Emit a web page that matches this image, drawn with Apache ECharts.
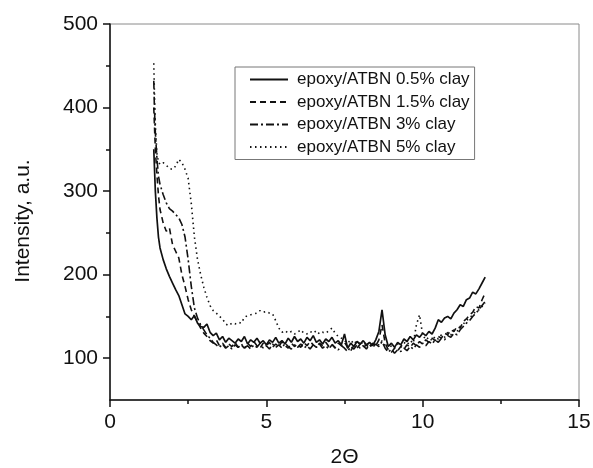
<!DOCTYPE html>
<html><head><meta charset="utf-8">
<script src="https://cdn.jsdelivr.net/npm/echarts@6/dist/echarts.min.js"></script>
<style>html,body{margin:0;padding:0;background:#fff}#c{width:593px;height:468px}</style>
</head><body><div id="c"></div>
<script>
const seriesNames = ['epoxy/ATBN 0.5% clay','epoxy/ATBN 1.5% clay','epoxy/ATBN 3% clay','epoxy/ATBN 5% clay'];
const twoTheta = [1.40,1.42,1.45,1.50,1.55,
1.6,1.7,1.8,1.9,2.0,2.1,2.2,2.3,2.4,2.5,
2.6,2.7,2.8,2.9,3.0,3.1,3.2,3.3,3.4,3.5,
3.6,3.7,3.8,3.9,4.0,4.1,4.2,4.3,4.4,4.5,
4.6,4.7,4.8,4.9,5.0,5.1,5.2,5.3,5.4,5.5,
5.6,5.7,5.8,5.9,6.0,6.1,6.2,6.3,6.4,6.5,
6.6,6.7,6.8,6.9,7.0,7.1,7.2,7.3,7.4,7.5,
7.6,7.7,7.8,7.9,8.0,8.1,8.2,8.3,8.4,8.5,
8.6,8.7,8.8,8.9,9.0,9.1,9.2,9.3,9.4,9.5,
9.6,9.7,9.8,9.9,10.0,10.1,10.2,10.3,10.4,10.5,
10.6,10.7,10.8,10.9,11.0,11.1,11.2,11.3,11.4,11.5,
11.6,11.7,11.8,11.9,12.0];
const clay05 = [350,330,300,268,245,
232,218,207,198,190,182,175,164,153,150,
146,151,142,138,137,141,131,127,130,122,
126,119,124,121,118,123,120,126,117,122,
119,124,118,121,116,122,119,125,118,121,
117,124,119,126,120,123,118,125,121,127,
119,122,117,123,120,125,118,121,116,129,
112,118,114,120,117,121,116,119,115,122,
132,158,128,114,118,113,119,116,123,120,
126,122,128,125,130,127,132,129,136,146,
143,148,150,147,154,158,164,162,170,172,
179,177,183,190,197];
const clay15 = [400,380,350,320,295,
278,262,252,256,236,228,220,200,186,170,
158,150,143,136,130,126,121,118,122,115,
118,113,117,114,119,113,116,112,118,114,
120,115,112,118,115,119,113,117,114,120,
115,112,118,114,117,113,119,115,120,116,
113,118,115,119,114,117,112,118,115,119,
113,109,115,112,117,113,116,112,118,115,
122,140,118,110,107,112,109,114,111,116,
113,118,115,120,117,122,119,124,121,126,
124,130,128,134,132,138,136,144,147,152,
155,162,160,170,178];
const clay3 = [432,400,370,340,318,
308,296,286,279,276,272,268,260,245,218,
186,160,148,140,134,128,124,119,116,113,
117,112,115,111,116,113,117,112,115,111,
116,113,118,112,115,111,117,113,116,112,
118,114,111,116,113,117,112,115,111,116,
113,117,112,115,111,116,113,110,115,112,
108,114,111,116,112,115,111,116,113,117,
114,120,112,107,111,106,110,108,112,109,
114,111,116,113,118,115,120,117,122,119,
124,122,127,125,130,128,134,138,142,145,
150,154,158,163,168];
const clay5 = [453,420,380,345,335,
332,334,331,327,326,330,338,334,326,315,
285,245,218,200,185,173,163,157,154,150,
147,141,139,142,141,143,142,149,151,152,
153,154,157,155,156,154,153,145,136,131,
133,130,132,129,131,134,130,129,132,130,
133,129,131,130,133,136,130,126,124,121,
118,122,117,121,116,120,115,119,114,118,
116,121,114,111,115,112,117,114,119,116,
121,118,140,152,128,122,125,121,126,123,
128,125,131,128,134,132,138,141,145,148,
152,156,158,162,166];
const xTicks = [0,5,10,15];
const xMinorTicks = [2.5,7.5,12.5];
const yTicks = [100,200,300,400,500];
const yMinorTicks = [150,250,350,450];

const values = [clay05, clay15, clay3, clay5];
const dashTypes = ['solid', [6,4], [8,3,2,3], [1.5,3.5]];
const FONT = 'Liberation Sans, Arial, sans-serif';
const ink = '#111';

const chart = echarts.init(document.getElementById('c'), null, {renderer:'canvas'});
const grid = {left:110, right:14, top:24, bottom:68, containLabel:false, outerBoundsMode:'none',
  show:true, borderColor:'#8a8a8a', borderWidth:1, backgroundColor:'transparent'};
const baseX = {type:'value', min:0, max:15, gridIndex:0, splitLine:{show:false}};
const baseY = {type:'value', min:50, max:500, gridIndex:0, splitLine:{show:false}};
const option = {
  animation:false,
  backgroundColor:'#fff',
  grid: grid,
  legend: {
    orient:'vertical', left:235, top:67, data:seriesNames,
    itemWidth:38, itemHeight:14, itemGap:5.5,
    padding:[4,5,4,14],
    borderColor:'#777', borderWidth:1, borderRadius:0,
    itemStyle:{opacity:0},
    textStyle:{fontFamily:FONT, fontSize:17, color:ink, lineHeight:17, padding:[0,0,0,4]}
  },
  xAxis: [
    Object.assign({}, baseX, {
      position:'bottom',
      axisLine:{show:true, onZero:false, lineStyle:{color:ink, width:1.5}},
      axisTick:{show:true, inside:false, length:7, lineStyle:{color:ink, width:1.5}, customValues:xTicks},
      axisLabel:{fontFamily:FONT, fontSize:21, color:ink, margin:12, customValues:xTicks},
      name:'2\u0398', nameLocation:'middle', nameGap:47,
      nameTextStyle:{fontFamily:FONT, fontSize:21, color:ink}
    }),
    Object.assign({}, baseX, {
      position:'bottom',
      axisLine:{show:false, onZero:false},
      axisTick:{show:true, inside:false, length:4, lineStyle:{color:ink, width:1.5}, customValues:xMinorTicks},
      axisLabel:{show:false}
    })
  ],
  yAxis: [
    Object.assign({}, baseY, {
      position:'left',
      axisLine:{show:true, onZero:false, lineStyle:{color:ink, width:1.5}},
      axisTick:{show:true, inside:false, length:7, lineStyle:{color:ink, width:1.5}, customValues:yTicks},
      axisLabel:{fontFamily:FONT, fontSize:21, color:ink, margin:12, customValues:yTicks},
      name:'Intensity, a.u.', nameLocation:'middle', nameGap:76,
      nameTextStyle:{fontFamily:FONT, fontSize:21, color:ink, padding:[0,18,0,0]}
    }),
    Object.assign({}, baseY, {
      position:'left',
      axisLine:{show:false, onZero:false},
      axisTick:{show:true, inside:false, length:4, lineStyle:{color:ink, width:1.5}, customValues:yMinorTicks},
      axisLabel:{show:false}
    })
  ],
  series: seriesNames.map((name, k) => ({
    name: name, type:'line', xAxisIndex:0, yAxisIndex:0,
    showSymbol:false, symbol:'none',
    data: twoTheta.map((x, i) => [x, values[k][i]]),
    lineStyle:{color:ink, width: k === 0 ? 1.7 : 1.6, type: dashTypes[k]},
    itemStyle:{color:ink},
    z: 4 - k
  }))
};
chart.setOption(option);
</script></body></html>
